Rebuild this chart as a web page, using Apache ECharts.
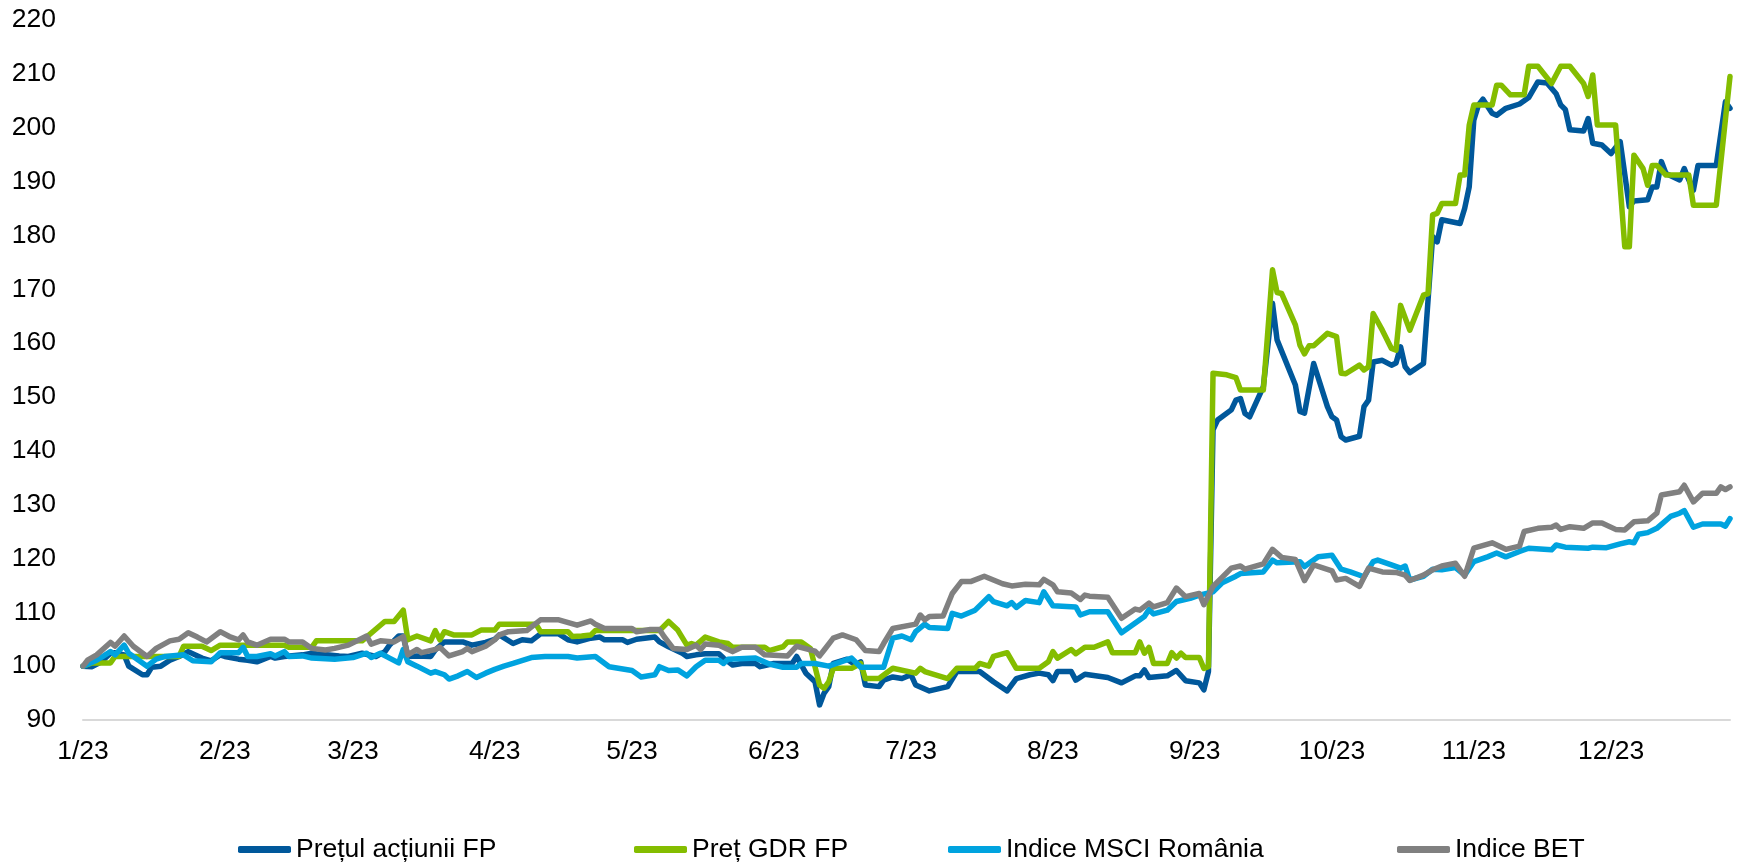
<!DOCTYPE html>
<html>
<head>
<meta charset="utf-8">
<title>FP vs. MSCI România și BET, 2023</title>
<script src="https://cdn.jsdelivr.net/npm/echarts@6/dist/echarts.min.js"></script>
<style>
  html, body { margin: 0; padding: 0; background: #ffffff; }
  #chart { width: 1737px; height: 863px; }
</style>
</head>
<body>
<div id="chart"></div>
<script>
// Rebased performance in 2023 (3 Jan 2023 = 100).
// Each point is [day of year 2023, index value].

const seriesNames = ['Prețul acțiunii FP', 'Preț GDR FP', 'Indice MSCI România', 'Indice BET'];

const fpPoints = [
  [3,100.0],[5,99.9],[7,100.8],[9,102.4],[10,102.5],[12,102.1],[13,100.0],[16,98.4],[17,98.4],[18,99.8],
  [20,100.0],[22,101.1],[24,101.8],[26,102.7],[29,101.5],[31,101.0],[33,102.1],[34,101.8],[37,101.3],[39,101.1],
  [41,100.8],[44,101.8],[45,101.5],[47,101.8],[51,102.1],[53,102.4],[54,102.3],[59,101.9],[61,101.8],[64,102.4],
  [67,101.8],[69,102.7],[70,103.9],[72,105.6],[73,105.6],[74,101.8],[76,101.9],[79,101.8],[80,103.0],[82,104.5],
  [86,104.5],[88,103.9],[91,104.4],[93,105.0],[94,105.8],[97,104.2],[99,104.9],[101,104.7],[103,106.0],[107,106.0],
  [109,104.9],[111,104.5],[114,105.2],[116,105.4],[117,104.9],[121,104.9],[122,104.4],[124,105.0],[128,105.4],[129,104.5],
  [131,103.6],[134,102.4],[135,101.8],[137,102.1],[139,102.3],[142,102.3],[143,101.5],[145,100.2],[147,100.5],[150,100.5],
  [151,99.9],[154,100.5],[158,100.5],[159,101.8],[161,98.7],[163,97.1],[164,92.8],[165,95.0],[166,96.2],[167,100.5],
  [170,101.3],[172,100.2],[173,100.8],[174,96.5],[177,96.2],[178,97.4],[180,98.0],[182,97.7],[184,98.4],[185,96.5],
  [188,95.4],[192,96.2],[194,99.0],[199,99.0],[202,97.1],[205,95.4],[207,97.7],[210,98.4],[212,98.7],[214,98.4],
  [215,97.3],[216,99.0],[219,99.0],[220,97.4],[222,98.5],[227,97.9],[230,96.9],[233,98.2],[234,98.2],[235,99.3],
  [236,97.9],[240,98.2],[242,99.2],[244,97.3],[247,96.9],[248,95.6],[249,99.0],[250,143.9],[251,145.7],[254,147.6],
  [255,149.4],[256,149.7],[257,146.9],[258,146.3],[261,151.9],[263,167.4],[264,160.6],[268,152.2],[269,147.3],[270,147.0],
  [272,156.2],[275,148.2],[276,146.3],[277,145.7],[278,142.6],[279,142.0],[282,142.7],[283,148.2],[284,149.4],[285,156.5],
  [287,156.8],[289,155.9],[290,156.3],[291,159.3],[292,155.6],[293,154.5],[296,156.2],[298,179.8],[299,178.8],[300,182.9],
  [304,182.2],[305,185.0],[306,189.0],[307,201.4],[308,204.2],[309,205.3],[311,202.7],[312,202.3],[314,203.6],[317,204.4],
  [319,205.6],[321,208.5],[323,208.3],[325,206.3],[326,204.2],[327,203.4],[328,199.6],[331,199.4],[332,201.7],[333,197.1],
  [335,196.8],[337,195.2],[339,197.4],[341,185.3],[342,186.4],[345,186.6],[346,189.0],[347,189.0],[348,193.7],[349,191.5],
  [352,190.3],[353,192.4],[354,190.3],[355,188.4],[356,193.0],[360,193.0],[362,204.8],[363,203.6]
];

const gdrPoints = [
  [3,100.0],[5,100.6],[9,100.6],[10,101.8],[24,101.8],[25,103.7],[29,103.7],[31,102.9],[33,103.9],[47,103.9],
  [48,103.5],[53,103.5],[54,104.7],[64,104.7],[68,107.6],[69,108.3],[71,108.3],[73,110.4],[74,104.9],[76,105.6],
  [79,104.7],[80,106.6],[81,104.9],[82,106.4],[84,105.8],[88,105.8],[90,106.7],[93,106.7],[94,107.8],[102,107.8],
  [103,106.4],[109,106.4],[110,105.5],[112,105.6],[114,105.8],[115,106.6],[129,106.6],[131,108.3],[133,106.7],[135,103.9],
  [136,104.2],[137,103.9],[139,105.4],[142,104.5],[144,104.2],[145,103.5],[152,103.5],[153,102.9],[156,103.6],[157,104.5],
  [160,104.5],[162,103.3],[164,96.5],[165,95.9],[166,97.1],[167,99.6],[171,99.6],[173,100.5],[174,97.7],[177,97.7],
  [180,99.6],[185,98.7],[186,99.6],[187,99.0],[192,97.7],[194,99.6],[198,99.6],[199,100.5],[201,100.0],[202,101.8],
  [205,102.5],[207,99.6],[212,99.6],[214,100.8],[215,102.7],[216,101.5],[219,103.1],[220,102.3],[222,103.5],[224,103.5],
  [227,104.5],[228,102.5],[233,102.5],[234,104.5],[235,102.4],[236,103.5],[237,100.5],[240,100.5],[241,102.5],[242,101.5],
  [243,102.4],[244,101.6],[247,101.6],[248,99.6],[249,99.9],[250,154.4],[253,154.1],[255,153.6],[256,151.3],[261,151.3],
  [263,173.6],[264,169.4],[265,169.2],[268,163.4],[269,159.6],[270,158.0],[271,159.5],[272,159.5],[275,161.8],[277,161.2],
  [278,154.4],[279,154.3],[282,155.9],[283,155.0],[284,155.6],[285,165.5],[287,162.4],[289,159.0],[290,158.7],[291,167.0],
  [293,162.4],[296,168.9],[297,169.2],[298,183.8],[299,184.1],[300,185.9],[303,185.9],[304,191.2],[305,191.2],[306,200.5],
  [307,204.2],[311,204.2],[312,207.9],[313,207.9],[315,206.1],[318,206.1],[319,211.4],[321,211.4],[324,208.2],[326,211.4],
  [328,211.4],[331,208.2],[332,205.8],[333,209.8],[334,200.5],[338,200.5],[340,177.9],[341,177.9],[342,194.9],[344,192.4],
  [345,189.3],[346,193.0],[347,193.0],[349,191.2],[354,191.2],[355,185.6],[360,185.6],[363,209.5]
];

const msciPoints = [
  [3,100.0],[6,101.1],[9,102.7],[10,102.1],[12,103.9],[13,102.4],[17,100.0],[19,101.3],[21,101.8],[25,102.1],
  [27,101.0],[31,100.8],[33,102.5],[37,102.5],[38,103.5],[39,101.8],[41,101.8],[44,102.3],[45,101.9],[47,102.7],
  [48,101.8],[51,101.9],[53,101.5],[58,101.3],[62,101.6],[65,102.4],[66,101.6],[68,102.4],[70,101.5],[72,100.6],
  [73,103.1],[74,100.8],[76,100.0],[79,98.7],[80,99.0],[82,98.4],[83,97.6],[85,98.2],[87,99.0],[89,97.9],
  [91,98.7],[93,99.4],[95,100.0],[97,100.5],[101,101.6],[104,101.8],[109,101.8],[111,101.5],[115,101.8],[118,99.9],
  [123,99.2],[125,98.0],[128,98.4],[129,99.9],[131,99.2],[133,99.3],[135,98.2],[137,99.9],[139,101.1],[142,101.1],
  [143,100.5],[144,101.3],[150,101.5],[153,100.4],[156,99.8],[159,99.8],[160,100.5],[163,100.5],[166,100.0],[171,101.5],
  [173,99.8],[178,99.8],[180,105.2],[182,105.6],[184,104.9],[185,106.4],[187,107.8],[188,107.2],[192,107.0],[193,109.8],
  [195,109.3],[198,110.4],[201,112.9],[202,112.0],[205,111.2],[206,111.8],[207,110.9],[209,112.2],[212,111.8],[213,113.8],
  [215,111.2],[220,111.0],[221,109.5],[223,110.1],[227,110.1],[230,106.2],[234,108.6],[235,109.2],[236,110.5],[237,109.7],
  [240,110.4],[242,112.0],[245,112.6],[247,113.2],[250,113.8],[252,115.5],[255,116.7],[256,117.2],[261,117.5],[263,119.7],
  [264,119.2],[269,119.4],[270,118.5],[273,120.3],[276,120.6],[278,118.0],[280,117.5],[283,116.6],[285,119.4],[286,119.7],
  [289,118.8],[291,118.2],[292,118.6],[293,116.0],[296,116.7],[298,118.0],[300,117.9],[303,118.3],[305,116.9],[307,119.4],
  [310,120.3],[312,121.0],[314,120.3],[317,121.3],[319,121.9],[324,121.6],[325,122.5],[327,122.1],[332,121.9],[333,122.1],
  [336,122.0],[339,122.7],[341,123.1],[342,122.9],[343,124.5],[345,124.8],[347,125.6],[350,127.8],[352,128.4],[353,128.9],
  [355,125.8],[357,126.4],[361,126.4],[362,126.0],[363,127.4]
];

const betPoints = [
  [3,100.0],[4,101.1],[6,102.1],[9,104.4],[10,103.7],[12,105.6],[14,103.7],[17,101.8],[19,103.3],[22,104.7],
  [24,105.0],[26,106.2],[28,105.4],[30,104.5],[33,106.4],[35,105.5],[37,104.9],[38,105.8],[39,104.5],[41,103.9],
  [44,105.0],[47,105.0],[48,104.5],[51,104.5],[53,103.3],[56,103.0],[58,103.3],[61,103.9],[65,105.6],[66,104.1],
  [68,104.7],[71,104.5],[73,105.5],[74,102.1],[76,103.1],[77,102.5],[80,103.1],[81,103.5],[83,101.9],[86,102.7],
  [87,103.3],[88,102.7],[91,103.7],[93,104.9],[94,105.8],[96,106.4],[100,106.6],[103,108.6],[107,108.6],[111,107.6],
  [114,108.4],[115,107.8],[117,107.0],[123,107.0],[124,106.4],[127,106.8],[129,106.8],[130,105.5],[132,103.3],[135,103.1],
  [137,103.9],[138,103.1],[139,104.1],[142,103.9],[145,102.7],[147,103.5],[150,103.5],[152,102.1],[157,101.9],[159,103.7],
  [163,102.8],[164,101.9],[165,103.0],[167,105.2],[169,105.8],[172,104.9],[174,102.9],[177,102.7],[178,104.2],[180,107.0],
  [185,107.8],[186,109.5],[187,108.6],[188,109.2],[191,109.3],[193,113.5],[195,115.7],[197,115.7],[200,116.7],[204,115.3],
  [206,114.9],[209,115.2],[212,115.1],[213,116.1],[215,115.1],[216,113.8],[219,113.6],[221,112.4],[222,113.2],[223,113.0],
  [227,112.8],[230,108.9],[233,110.6],[234,110.4],[236,111.7],[237,111.0],[240,111.8],[242,114.5],[244,112.9],[247,113.5],
  [248,111.4],[250,114.8],[254,118.2],[256,118.6],[257,118.0],[261,119.0],[263,121.7],[265,120.2],[268,119.8],[270,115.9],
  [272,118.8],[276,117.7],[277,116.0],[279,116.3],[282,114.8],[284,118.2],[287,117.5],[290,117.4],[292,116.9],[293,115.9],
  [296,116.9],[298,117.9],[300,118.6],[303,119.1],[305,116.7],[307,121.9],[311,122.9],[314,121.7],[317,122.3],[318,125.0],
  [321,125.6],[324,125.8],[325,126.2],[326,125.4],[328,125.9],[331,125.6],[333,126.6],[335,126.6],[338,125.4],[340,125.3],
  [342,126.8],[345,127.0],[347,128.4],[348,131.8],[352,132.4],[353,133.6],[355,130.5],[357,132.1],[360,132.1],[361,133.3],
  [362,132.8],[363,133.3]
];

// x-axis labels sit on the 3rd of every month (day of year), starting from the first trading day
const firstDay = 3, lastDay = 363;
const tickDays = [3, 34, 62, 93, 123, 154, 184, 215, 246, 276, 307, 337];
const tickLabels = ['1/23', '2/23', '3/23', '4/23', '5/23', '6/23', '7/23', '8/23', '9/23', '10/23', '11/23', '12/23'];

const yMin = 90, yMax = 220, yStep = 10;

const colors = ['#00589B', '#84BD00', '#00A3DF', '#808080'];
const FONT = '"Liberation Sans", Arial, Helvetica, sans-serif';
const FONT_SIZE = 26.5;

const labelByDay = {};
tickDays.forEach((d, i) => { labelByDay[d] = tickLabels[i]; });

const allPoints = [fpPoints, gdrPoints, msciPoints, betPoints];

const chart = echarts.init(document.getElementById('chart'), null, { renderer: 'canvas' });

const legendLeft = [238, 634, 948, 1397];

chart.setOption({
  animation: false,
  backgroundColor: '#ffffff',
  textStyle: { fontFamily: FONT },
  grid: { left: 83, right: 7, top: 20, bottom: 143, containLabel: false },
  xAxis: {
    type: 'value',
    min: firstDay,
    max: lastDay,
    axisLine: { show: true, onZero: false, lineStyle: { color: '#d9d9d9', width: 2 } },
    axisTick: { show: false },
    splitLine: { show: false },
    axisLabel: {
      customValues: tickDays,
      formatter: v => labelByDay[v] || '',
      color: '#000000',
      fontSize: FONT_SIZE,
      fontFamily: FONT,
      margin: 18,
      hideOverlap: false
    }
  },
  yAxis: {
    type: 'value',
    min: yMin,
    max: yMax,
    interval: yStep,
    axisLine: { show: false },
    axisTick: { show: false },
    splitLine: { show: false },
    axisLabel: {
      color: '#000000',
      fontSize: FONT_SIZE,
      fontFamily: FONT,
      margin: 27
    }
  },
  legend: seriesNames.map((name, i) => ({
    data: [name],
    left: legendLeft[i],
    top: 836,
    padding: 0,
    icon: 'roundRect',
    itemWidth: 53,
    itemHeight: 7,
    selectedMode: false,
    textStyle: { color: '#000000', fontSize: FONT_SIZE, fontFamily: FONT }
  })),
  series: seriesNames.map((name, i) => ({
    name: name,
    type: 'line',
    data: allPoints[i],
    showSymbol: false,
    symbol: 'none',
    color: colors[i],
    lineStyle: { color: colors[i], width: 5.5, join: 'round', cap: 'round' },
    emphasis: { disabled: true },
    z: 2 + i
  }))
});
</script>
</body>
</html>
